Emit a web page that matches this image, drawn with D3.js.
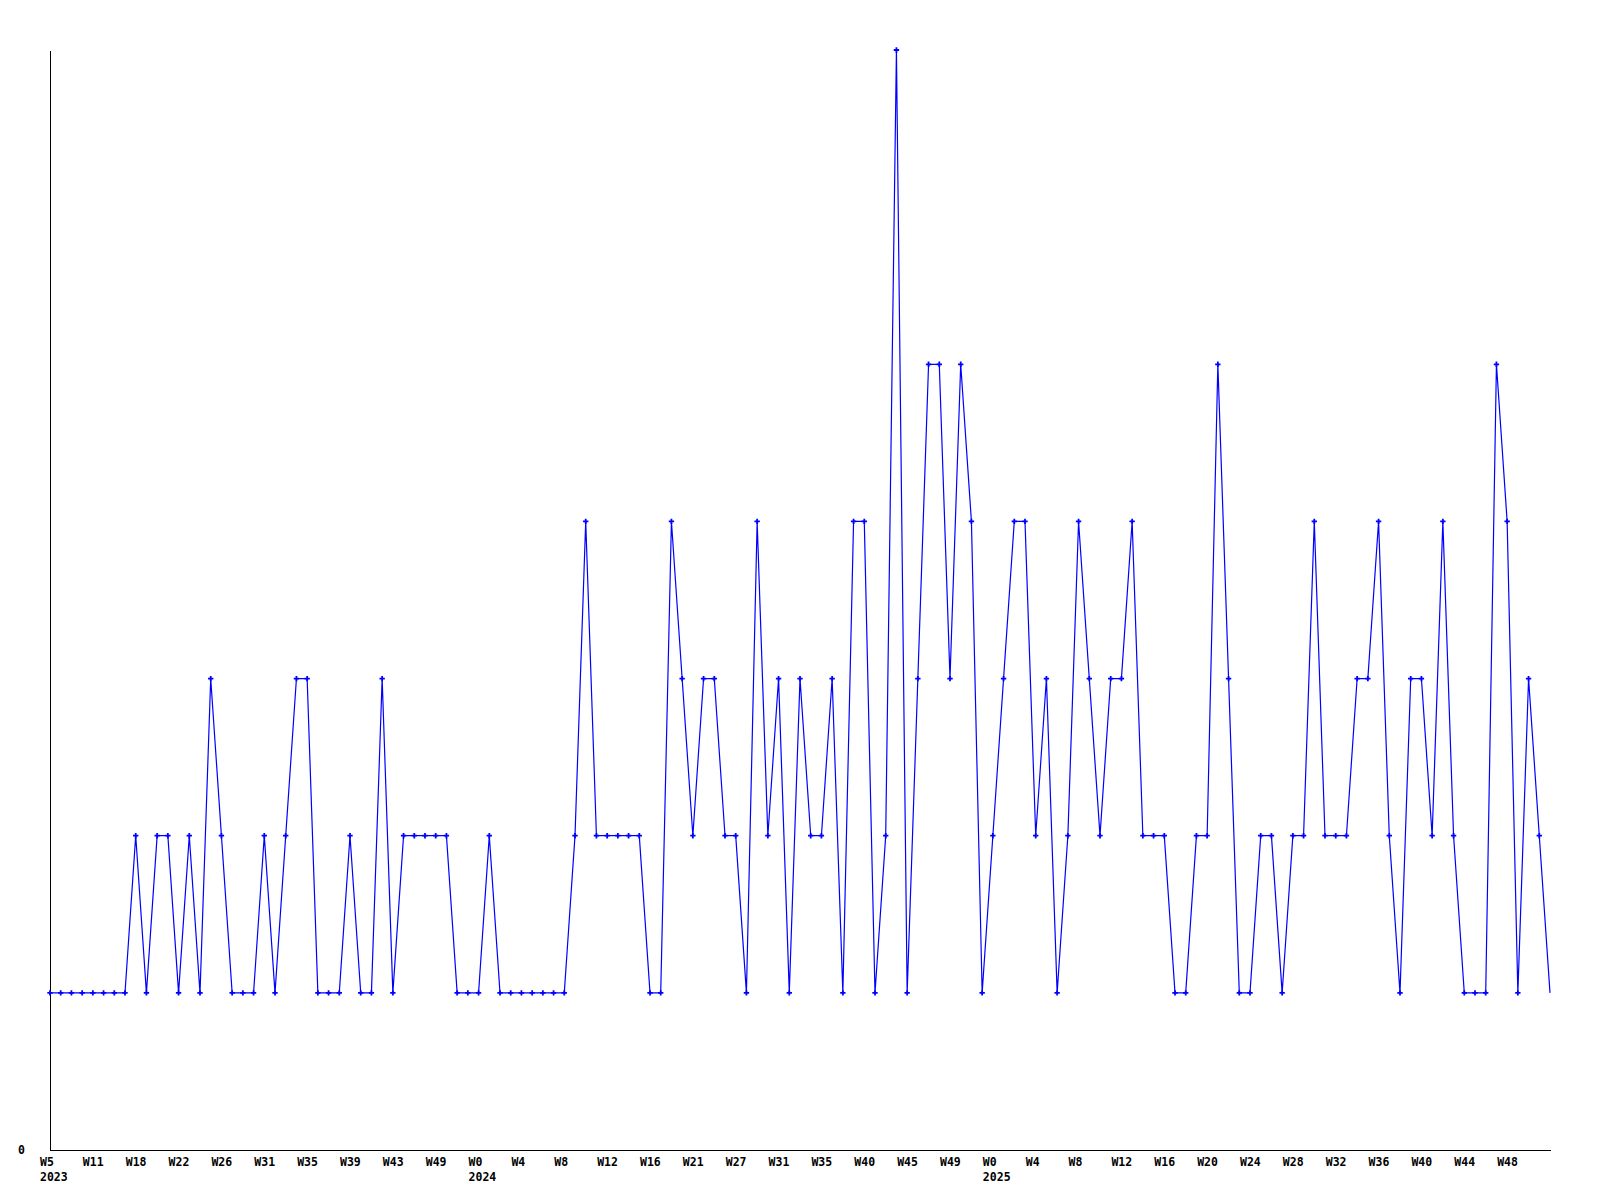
<!DOCTYPE html>
<html>
<head>
<meta charset="utf-8">
<script src="https://cdn.jsdelivr.net/npm/d3@7"></script>
<style>
    body { margin: 0; background: #fff; }
    svg { display: block; }
    .axis text { font-family: "DejaVu Sans Mono", monospace; font-weight: bold; font-size: 11.5px; fill: #000; }
    .axis path { stroke: #000; shape-rendering: crispEdges; }
</style>
</head>
<body>
<div id="chart"></div>
<script>
// one value per week that had entries (weeks with no entries are skipped)
const values = [
    1, 1, 1, 1, 1, 1, 1, 1, 2, 1, 2, 2, 1, 2, 1, 3, 2, 1, 1, 1,
    2, 1, 2, 3, 3, 1, 1, 1, 2, 1, 1, 3, 1, 2, 2, 2, 2, 2, 1, 1,
    1, 2, 1, 1, 1, 1, 1, 1, 1, 2, 4, 2, 2, 2, 2, 2, 1, 1, 4, 3,
    2, 3, 3, 2, 2, 1, 4, 2, 3, 1, 3, 2, 2, 3, 1, 4, 4, 1, 2, 7,
    1, 3, 5, 5, 3, 5, 4, 1, 2, 3, 4, 4, 2, 3, 1, 2, 4, 3, 2, 3,
    3, 4, 2, 2, 2, 1, 1, 2, 2, 5, 3, 1, 1, 2, 2, 1, 2, 2, 4, 2,
    2, 2, 3, 3, 4, 2, 1, 3, 3, 2, 4, 2, 1, 1, 1, 5, 4, 1, 3, 2,
    1
];

// week label shown under every 4th point
const tickLabels = [
    'W5', 'W11', 'W18', 'W22', 'W26', 'W31', 'W35', 'W39', 'W43', 'W49', 'W0', 'W4',
    'W8', 'W12', 'W16', 'W21', 'W27', 'W31', 'W35', 'W40', 'W45', 'W49', 'W0', 'W4',
    'W8', 'W12', 'W16', 'W20', 'W24', 'W28', 'W32', 'W36', 'W40', 'W44', 'W48'
];
const tickEvery = 4;

const yearStarts = [0, 40, 88];
const yearLabels = ['2023', '2024', '2025'];

const width = 1600;
const height = 1200;
const plot = { left: 50, right: 1550, top: 50, bottom: 1150 };

const svg = d3.select('#chart').append('svg')
    .attr('width', width)
    .attr('height', height);

svg.append('rect').attr('width', width).attr('height', height).attr('fill', '#fff');

const x = d3.scaleLinear().domain([0, values.length - 1]).range([plot.left, plot.right]);
const y = d3.scaleLinear().domain([0, 7]).range([plot.bottom, plot.top]);

// axes
const tickIdx = tickLabels.map((_, i) => i * tickEvery);
const xAxis = svg.append('g')
    .attr('class', 'axis')
    .attr('transform', `translate(0,${plot.bottom})`)
    .call(d3.axisBottom(x)
        .tickValues(tickIdx)
        .tickFormat((d, i) => tickLabels[i])
        .tickSize(0)
        .tickSizeOuter(0)
        .tickPadding(8));
xAxis.selectAll('text').attr('text-anchor', 'start').attr('x', -10.5);

const yearAxis = svg.append('g')
    .attr('class', 'axis')
    .attr('transform', `translate(0,${plot.bottom})`)
    .call(d3.axisBottom(x)
        .tickValues(yearStarts)
        .tickFormat((d, i) => yearLabels[i])
        .tickSize(0)
        .tickPadding(23));
yearAxis.select('.domain').remove();
yearAxis.selectAll('text').attr('text-anchor', 'start').attr('x', -10.5);

svg.append('g')
    .attr('class', 'axis')
    .attr('transform', `translate(${plot.left},0)`)
    .call(d3.axisLeft(y)
        .tickValues([0])
        .tickFormat(d3.format('d'))
        .tickSize(0)
        .tickSizeOuter(0)
        .tickPadding(25));

// series
const line = d3.line()
    .x((d, i) => x(i))
    .y(d => y(d));

svg.append('path')
    .datum(values)
    .attr('fill', 'none')
    .attr('stroke', '#0000ff')
    .attr('stroke-width', 1.2)
    .attr('d', line);

svg.append('g')
    .selectAll('path')
    .data(values.slice(0, -1))
    .join('path')
    .attr('transform', (d, i) => `translate(${x(i)},${y(d)})`)
    .attr('d', d3.symbol(d3.symbolCross, 16))
    .attr('fill', '#0000ff');
</script>
</body>
</html>
